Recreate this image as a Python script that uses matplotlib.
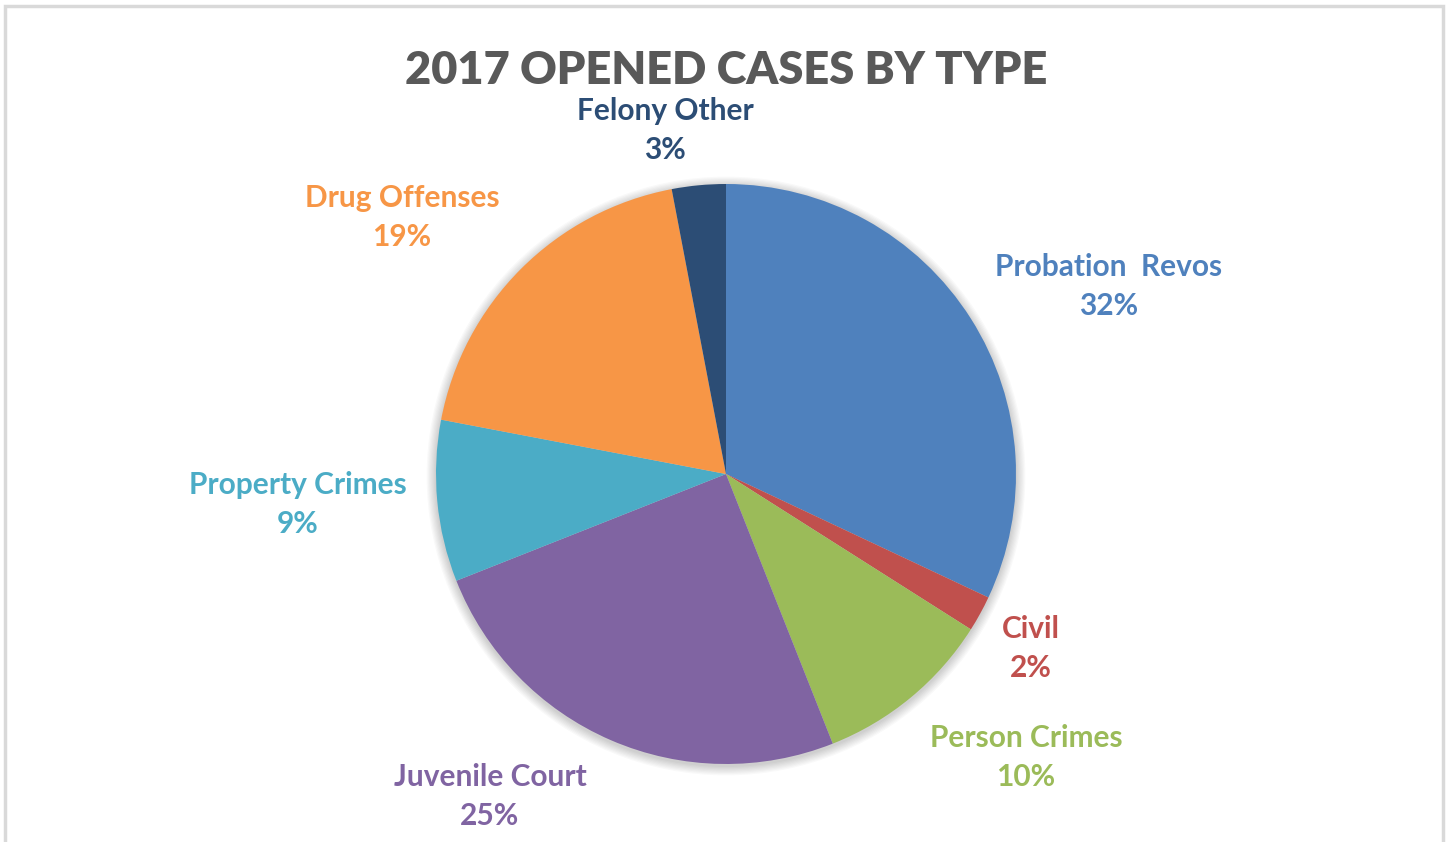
import matplotlib
matplotlib.use("Agg")
import matplotlib.pyplot as plt
from matplotlib.patches import Circle, Rectangle

# 2017 opened cases, share by case type (percent)
categories = ["Probation  Revos", "Civil", "Person Crimes", "Juvenile Court",
              "Property Crimes", "Drug Offenses", "Felony Other"]
shares = [32, 2, 10, 25, 9, 19, 3]
colors = ["#4F81BD", "#C0504D", "#9BBB59", "#8064A2", "#4BACC6", "#F79646", "#2C4D75"]
label_colors = ["#4F81BD", "#C0504D", "#9BBB59", "#8064A2", "#4BACC6", "#F79646", "#2C4D75"]

# label anchor (pixel x, pixel y from top) for each category
label_pos = [(1109, 267), (1031, 629), (1026, 738), (490, 777),
             (298, 485), (402, 198), (665, 111)]

W, H = 1450, 842
fig = plt.figure(figsize=(W / 100, H / 100), dpi=100)
ax = fig.add_axes([0, 0, 1, 1])

cx, cy, R = 726, H - 474, 290

# outer frame
ax.add_patch(Rectangle((5, -5), 1438, H - 1, fill=False, edgecolor="#D9D9D9", lw=2.5))

# soft shadow under the pie
for i in range(8):
    ax.add_patch(Circle((cx, cy - 2), R + 1 + i * 1.2, color="black",
                        alpha=0.025, lw=0, zorder=1))

ax.pie(shares, colors=colors, startangle=90, counterclock=False,
       center=(cx, cy), radius=R, frame=True,
       wedgeprops=dict(linewidth=0, zorder=2))
ax.set_xlim(0, W)
ax.set_ylim(0, H)
ax.axis("off")

font = ["Lato", "DejaVu Sans"]
for name, val, col, (lx, ly) in zip(categories, shares, label_colors, label_pos):
    ax.text(lx, H - ly, name, ha="center", va="center", fontsize=21.5,
            fontweight="bold", color=col, family=font)
    ax.text(lx, H - ly - 39, f"{val}%", ha="center", va="center", fontsize=21.5,
            fontweight="bold", color=col, family=font)

ax.text(726, H - 70, "2017 OPENED CASES BY TYPE", ha="center", va="center",
        fontsize=32.5, fontweight="heavy", color="#595959", family=font)

fig.savefig("out.png", dpi=100)
